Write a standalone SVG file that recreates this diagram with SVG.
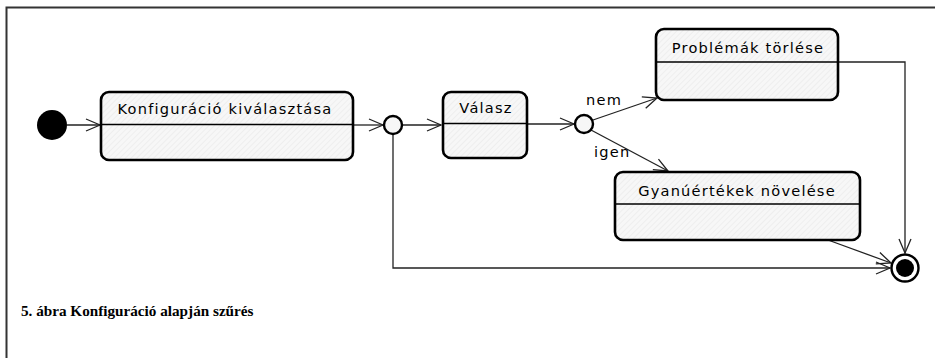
<svg xmlns="http://www.w3.org/2000/svg" width="935" height="358" viewBox="0 0 935 358">
  <style>
    .state { fill: url(#hatch); stroke: #000; stroke-width: 2.6; }
    .div { stroke: #000; stroke-width: 1.6; fill: none; }
    .lbl { font-family: "DejaVu Sans", "Liberation Sans", sans-serif; font-size: 14.6px; letter-spacing: 1.2px; fill: #000; }
    .edge { stroke: #222; stroke-width: 1.3; fill: none; }
    .cap { font-family: "Liberation Serif", serif; font-weight: bold; font-size: 15.2px; fill: #000; }
  </style>
  <defs>
    <pattern id="hatch" width="4" height="4" patternUnits="userSpaceOnUse" patternTransform="rotate(45)">
      <rect width="4" height="4" fill="#f7f7f7"/>
      <line x1="0" y1="0" x2="0" y2="4" stroke="#e6e6e6" stroke-width="1"/>
    </pattern>
    <marker id="open" viewBox="0 0 16 16" refX="15" refY="8" markerWidth="16" markerHeight="16" markerUnits="userSpaceOnUse" orient="auto">
      <path d="M1,2 L15,8 L1,14" fill="none" stroke="#222" stroke-width="1.3"/>
    </marker>
  </defs>

  <!-- page frame -->
  <path d="M6.5,358 V7.5 H935" fill="none" stroke="#333" stroke-width="2"/>

  <g id="connectors">
    <line class="edge" x1="67" y1="125" x2="100" y2="125" marker-end="url(#open)"/>
    <line class="edge" x1="354" y1="125" x2="383" y2="125" marker-end="url(#open)"/>
    <line class="edge" x1="402" y1="125" x2="441" y2="125" marker-end="url(#open)"/>
    <line class="edge" x1="528" y1="124" x2="574" y2="124" marker-end="url(#open)"/>
    <line class="edge" x1="593" y1="120" x2="657" y2="98" marker-end="url(#open)"/>
    <line class="edge" x1="591" y1="130" x2="668" y2="171" marker-end="url(#open)"/>
    <polyline class="edge" points="839,62 905,62 905,253" marker-end="url(#open)"/>
    <line class="edge" x1="828" y1="240" x2="891" y2="263" marker-end="url(#open)"/>
    <polyline class="edge" points="393,134 393,268 890,268" marker-end="url(#open)"/>
    <text class="lbl" x="586" y="105" letter-spacing="0.6">nem</text>
    <text class="lbl" x="594" y="157" letter-spacing="0.6">igen</text>
  </g>

  <g id="start">
    <circle cx="52" cy="125" r="15" fill="#000"/>
  </g>

  <g id="konfiguracio">
    <rect class="state" x="101" y="92" width="252" height="68" rx="8"/>
    <line class="div" x1="101" y1="124.5" x2="353" y2="124.5"/>
    <text class="lbl" x="225" y="114" text-anchor="middle">Konfiguráció kiválasztása</text>
  </g>

  <g id="merge">
    <circle cx="393" cy="125" r="9" fill="#f7f7f7" stroke="#000" stroke-width="2.4"/>
  </g>

  <g id="valasz">
    <rect class="state" x="443" y="92" width="84" height="66" rx="8"/>
    <line class="div" x1="443" y1="123.5" x2="527" y2="123.5"/>
    <text class="lbl" x="486" y="113" text-anchor="middle">Válasz</text>
  </g>

  <g id="decision">
    <circle cx="584" cy="124" r="9" fill="#f7f7f7" stroke="#000" stroke-width="2.4"/>
  </g>

  <g id="problemak">
    <rect class="state" x="656" y="29" width="182" height="71" rx="8"/>
    <line class="div" x1="656" y1="62" x2="838" y2="62"/>
    <text class="lbl" x="748" y="53" text-anchor="middle">Problémák törlése</text>
  </g>

  <g id="gyanuertekek">
    <rect class="state" x="615" y="172" width="245" height="68" rx="8"/>
    <line class="div" x1="615" y1="204" x2="860" y2="204"/>
    <text class="lbl" x="737" y="196" text-anchor="middle">Gyanúértékek növelése</text>
  </g>

  <g id="final">
    <circle cx="905" cy="268" r="13.5" fill="#fff" stroke="#000" stroke-width="2.4"/>
    <circle cx="905" cy="268" r="9" fill="#000"/>
  </g>

  <text class="cap" x="21" y="316">5. ábra Konfiguráció alapján szűrés</text>
</svg>
